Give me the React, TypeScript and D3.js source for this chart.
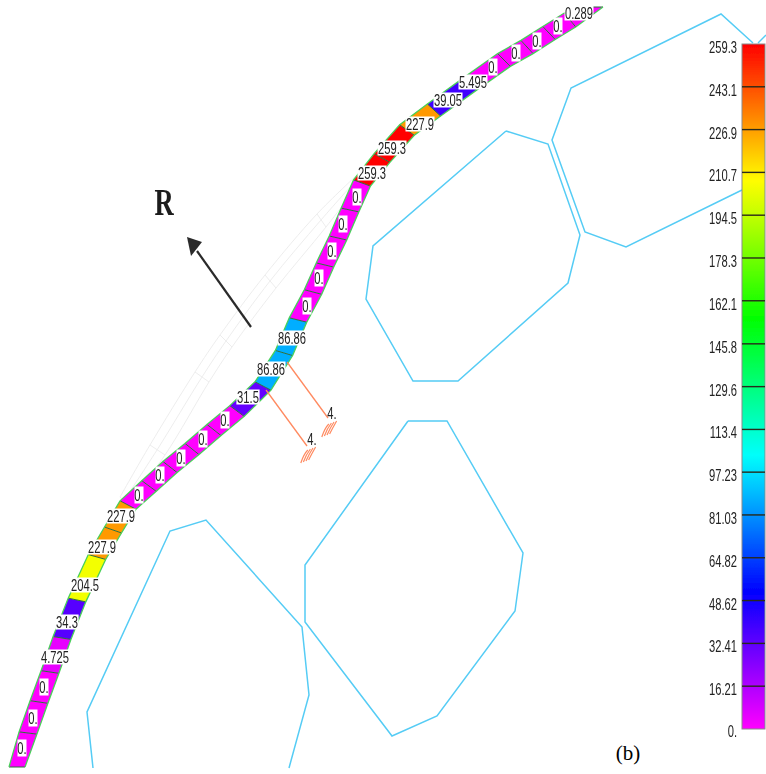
import React from 'react';
import * as d3 from 'd3';

const WIDTH = 766;
const HEIGHT = 774;

// band centre line, one point per element boundary (image pixels)
const stationX = [17, 28, 39, 50, 62, 77, 97, 113, 128, 149, 170, 192, 214, 237, 263, 284, 298, 313, 325, 338, 350, 362, 382, 407, 434, 470, 504, 527, 549, 570, 598];
const stationY = [767, 733, 702, 672, 638, 600, 557, 530, 505, 486, 467, 449, 430, 411, 386, 353, 320, 292, 265, 238, 210, 183, 158, 130, 110, 84, 60, 47, 33, 20, 7];
const elementValues = [0, 0, 0, 4.725, 34.3, 204.5, 227.9, 227.9, 0, 0, 0, 0, 0, 31.5, 86.86, 86.86, 0, 0, 0, 0, 0, 259.3, 259.3, 227.9, 39.05, 0, 0, 0, 0, 0];

// value labels sitting on the band
const labelText = ['0.', '0.', '0.', '4.725', '34.3', '204.5', '227.9', '227.9', '0.', '0.', '0.', '0.', '0.', '31.5', '86.86', '86.86', '0.', '0.', '0.', '0.', '0.', '259.3', '259.3', '227.9', '39.05', '5.495', '0.', '0.', '0.', '0.', '0.289'];
const labelX = [22, 33, 44, 55, 67, 85, 102, 121, 139, 160, 181, 203, 225, 248, 271, 292, 307, 319, 332, 343, 357, 372, 392, 420, 448, 473, 493, 516, 537, 558, 579];
const labelY = [748, 718, 687, 657, 622, 585, 547, 516, 495, 475, 458, 439, 420, 397, 369, 338, 306, 278, 251, 224, 197, 173, 148, 124, 100, 82, 67, 53, 41, 26, 13];

// pale undeformed mesh behind the band
const ghostOuter = [[120, 497], [150, 445], [195, 372], [220, 335], [265, 275], [317, 214], [357, 175]];
const ghostMiddle = [[123, 502], [157, 450], [202, 377], [226, 341], [270, 281], [321, 220], [359, 177]];
const ghostInner = [[127, 505], [165, 455], [209, 382], [232, 347], [276, 288], [326, 227], [362, 180]];

// neighbouring grain outlines
const grainOne = [[506, 131], [548, 144], [580, 235], [568, 283], [458, 381], [413, 381], [366, 299], [373, 246], [506, 131]];
const grainTwo = [[742, 190], [626, 247], [585, 232], [552, 140], [571, 88], [721, 14], [753, 43]];
const grainThree = [[408, 421], [447, 421], [523, 553], [515, 611], [437, 716], [392, 736], [305, 622], [305, 565], [408, 421]];
const grainFour = [[93, 768], [87, 712], [170, 531], [206, 520], [302, 627], [309, 695], [289, 768]];
const grainStub = [[758, 43], [766, 35]];

// springs at the two loaded nodes
const springs = [
  { from: [287, 362], to: [328, 418], hatch: [330, 428], text: '4.', tx: 332, ty: 413 },
  { from: [266, 390], to: [307, 446], hatch: [309, 454], text: '4.', tx: 312, ty: 439 },
];

// colour bar
const legendValues = [259.3, 243.1, 226.9, 210.7, 194.5, 178.3, 162.1, 145.8, 129.6, 113.4, 97.23, 81.03, 64.82, 48.62, 32.41, 16.21, 0];
const legendLabels = ['259.3', '243.1', '226.9', '210.7', '194.5', '178.3', '162.1', '145.8', '129.6', '113.4', '97.23', '81.03', '64.82', '48.62', '32.41', '16.21', '0.'];
const colorDomain = [0, 52, 103, 155, 207, 259.3];
const colorRange = ['#ff00ff', '#0000ff', '#00ffff', '#00ff00', '#ffff00', '#ff0000'];

const color = d3.scaleLinear<string>().domain(colorDomain).range(colorRange).clamp(true);
const legendY = d3.scaleLinear().domain([0, 259.3]).range([729, 44]);
const line = d3.line();

const SANS = '"Liberation Sans", Arial, sans-serif';
const SERIF = '"Liberation Serif", serif';
const GRAIN = '#55ccf5';
const SPRING = '#ff8a60';
const GHOST = '#ebebeb';
const HALF_WIDTH = 9;
const SKEW = 0.2; // element boundaries lean away from the true normal

// left and right corners of the band at a station
function corners(i: number) {
  const last = stationX.length - 1;
  if (i === 0 || i === last) {
    // both ends of the band are cut flat
    const half = i === 0 ? 8 : 5;
    return {
      left: [stationX[i] - half, stationY[i]] as [number, number],
      right: [stationX[i] + half, stationY[i]] as [number, number],
    };
  }
  const dx = stationX[i + 1] - stationX[i - 1];
  const dy = stationY[i + 1] - stationY[i - 1];
  const len = Math.hypot(dx, dy);
  const nx0 = -dy / len;
  const ny0 = dx / len;
  const nx = nx0 * Math.cos(SKEW) + ny0 * Math.sin(SKEW);
  const ny = -nx0 * Math.sin(SKEW) + ny0 * Math.cos(SKEW);
  return {
    left: [stationX[i] - nx * HALF_WIDTH, stationY[i] - ny * HALF_WIDTH] as [number, number],
    right: [stationX[i] + nx * HALF_WIDTH, stationY[i] + ny * HALF_WIDTH] as [number, number],
  };
}

function Squeezed({ x, y, anchor, children }: { x: number; y: number; anchor: 'middle' | 'end'; children: string }) {
  // the picture's labels are tall and narrow, no condensed face is installed
  return (
    <text transform={`translate(${x},${y}) scale(0.7,1)`} textAnchor={anchor} fontFamily={SANS} fontSize={16} fill="#222">
      {children}
    </text>
  );
}

function Hatch({ x, y }: { x: number; y: number }) {
  // little ground symbol under a spring
  const strokes = d3.range(-2, 2).map((k) => `M${x + k * 2.6 - 3},${y + 7 - k}Q${x + k * 2.6},${y} ${x + k * 2.6 + 4},${y - 6 - k}`);
  return <path d={strokes.join('')} stroke={SPRING} strokeWidth={1.2} fill="none" />;
}

export default function App() {
  const cells = elementValues.map((v, i) => ({ v, a: corners(i), b: corners(i + 1) }));
  const upper = stationX.map((_, i) => corners(i).left);
  const lower = stationX.map((_, i) => corners(i).right);

  return (
    <svg width={WIDTH} height={HEIGHT} style={{ position: 'absolute', left: 0, top: 0, background: '#fff' }}>
      <defs>
        <filter id="soft" x="0" y="0" width="100%" height="100%" filterUnits="userSpaceOnUse">
          <feGaussianBlur stdDeviation="0.6" />
        </filter>
        <linearGradient id="bar" x1="0" x2="0" y1="1" y2="0">
          {d3.range(0, 21).map((k) => (
            <stop key={k} offset={k / 20} stopColor={color((k / 20) * 259.3)} />
          ))}
        </linearGradient>
      </defs>
      <g filter="url(#soft)">
        {[ghostOuter, ghostMiddle, ghostInner].map((g, i) => (
          <path key={i} d={d3.line().curve(d3.curveCatmullRom)(g as [number, number][]) || ''} fill="none" stroke={GHOST} strokeWidth={0.9} />
        ))}
        {ghostOuter.map((p, i) => (
          <path key={i} d={line([p, ghostInner[i]] as [number, number][]) || ''} stroke={GHOST} strokeWidth={0.9} />
        ))}

        {[grainOne, grainTwo, grainThree, grainFour, grainStub].map((g, i) => (
          <path key={i} d={line(g as [number, number][]) || ''} fill="none" stroke={GRAIN} strokeWidth={1.5} />
        ))}

        {cells.map((c, i) => (
          <path key={i} d={line([c.a.left, c.a.right, c.b.right, c.b.left]) + 'Z'} fill={color(c.v)} />
        ))}
        {stationX.map((_, i) => (
          <path key={i} d={line([corners(i).left, corners(i).right]) || ''} stroke="#2c6e3a" strokeWidth={1} />
        ))}
        <path d={line(upper) || ''} fill="none" stroke="#49d05a" strokeWidth={1.3} />
        <path d={line(lower) || ''} fill="none" stroke="#49d05a" strokeWidth={1.3} />

        {labelText.map((t, i) => {
          const w = t === '0.' ? 9 : t.length * 5.8;
          const h = t === '0.' ? 17 : 15;
          return (
            <g key={i}>
              <rect x={labelX[i] - w / 2} y={labelY[i] - h / 2} width={w} height={h} fill="#fff" />
              <Squeezed x={labelX[i]} y={labelY[i] + 6} anchor="middle">{t}</Squeezed>
            </g>
          );
        })}

        {springs.map((s, i) => (
          <g key={i}>
            <path d={line([s.from, s.to] as [number, number][]) || ''} stroke={SPRING} strokeWidth={1.3} fill="none" />
            <Hatch x={s.hatch[0]} y={s.hatch[1]} />
            <Squeezed x={s.tx} y={s.ty + 6} anchor="middle">{s.text}</Squeezed>
          </g>
        ))}

        <path d="M251,327L197,251" stroke="#2a2a2a" strokeWidth={2.2} fill="none" />
        <path d="M187,237L202,242L191,256Z" fill="#2a2a2a" />
        <text transform="translate(164,215) scale(0.72,1)" textAnchor="middle" fontFamily={SERIF} fontWeight="bold" fontSize={37} fill="#1c1c1c">R</text>

        <rect x={742} y={44} width={23} height={685} fill="url(#bar)" stroke="#8a8a8a" strokeWidth={1} />
        {legendValues.map((v, i) => (
          <g key={i}>
            {i > 0 && i < legendValues.length - 1 && (
              <line x1={742} x2={765} y1={legendY(v)} y2={legendY(v)} stroke="#2a2a1a" strokeWidth={1.4} />
            )}
            <Squeezed x={737} y={legendY(v) + (i === legendValues.length - 1 ? 8 : 9)} anchor="end">{legendLabels[i]}</Squeezed>
          </g>
        ))}
      </g>
      <text x={628} y={760} textAnchor="middle" fontFamily={SERIF} fontSize={21} fill="#000">(b)</text>
    </svg>
  );
}
